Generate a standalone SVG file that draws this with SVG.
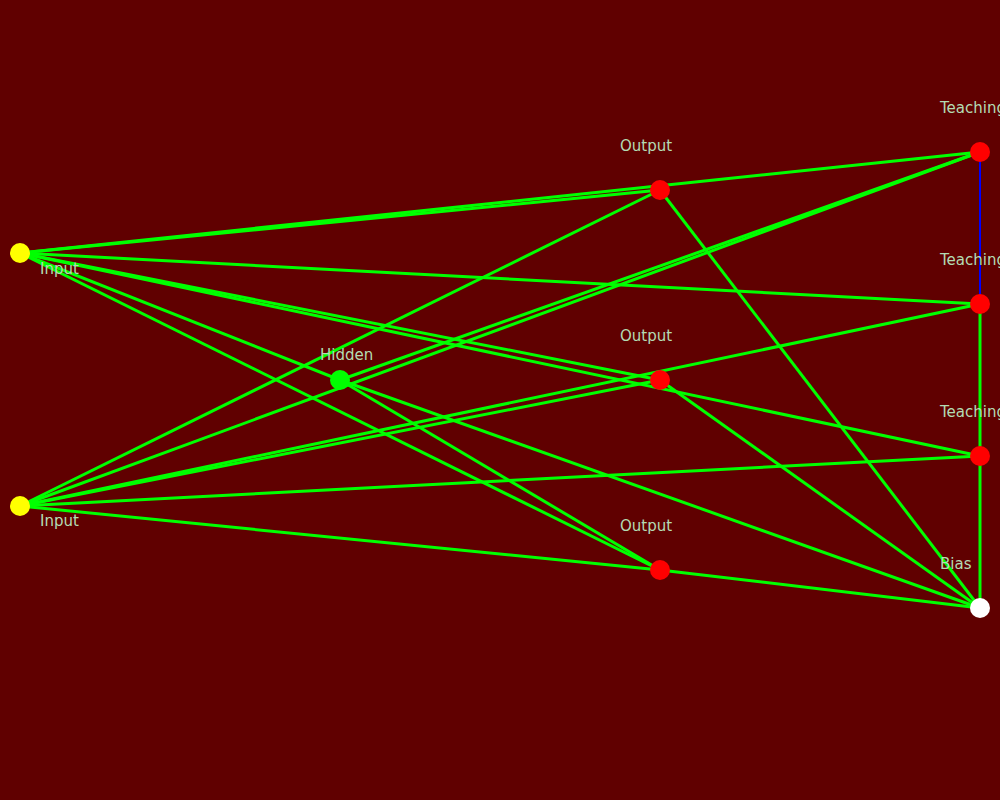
<svg xmlns="http://www.w3.org/2000/svg" width="1000" height="800" viewBox="0 0 1000 800">
<style>
.e{stroke:#00ff00;stroke-width:3;fill:none}
.eb{stroke:#0000ff;stroke-width:2;fill:none}
.lbl{font-family:"DejaVu Sans",sans-serif;font-size:15px;fill:#b4dcb4}
.in{fill:#ffff00}.hid{fill:#00ff00}.out{fill:#ff0000}.bias{fill:#ffffff}
</style>
<rect width="1000" height="800" fill="#600000"/>
<g id="connectors">
<line class="e" x1="20" y1="253" x2="660" y2="190"/>
<line class="e" x1="20" y1="253" x2="980" y2="152"/>
<line class="e" x1="20" y1="253" x2="980" y2="304"/>
<line class="e" x1="20" y1="253" x2="660" y2="380"/>
<line class="e" x1="20" y1="253" x2="980" y2="456"/>
<line class="e" x1="20" y1="253" x2="340" y2="380"/>
<line class="e" x1="20" y1="253" x2="660" y2="570"/>
<line class="e" x1="20" y1="506" x2="660" y2="190"/>
<line class="e" x1="20" y1="506" x2="980" y2="152"/>
<line class="e" x1="20" y1="506" x2="660" y2="380"/>
<line class="e" x1="20" y1="506" x2="980" y2="304"/>
<line class="e" x1="20" y1="506" x2="980" y2="456"/>
<line class="e" x1="20" y1="506" x2="660" y2="570"/>
<line class="e" x1="340" y1="380" x2="980" y2="152"/>
<line class="e" x1="340" y1="380" x2="660" y2="570"/>
<line class="e" x1="340" y1="380" x2="980" y2="608"/>
<line class="e" x1="660" y1="190" x2="980" y2="608"/>
<line class="e" x1="660" y1="380" x2="980" y2="608"/>
<line class="e" x1="660" y1="570" x2="980" y2="608"/>
<line class="eb" x1="980" y1="152" x2="980" y2="304"/>
<line class="e" x1="980" y1="304" x2="980" y2="456"/>
<line class="e" x1="980" y1="456" x2="980" y2="608"/>
</g>
<g id="input1"><circle class="in" cx="20" cy="253" r="10"/><text class="lbl" x="40" y="274">Input</text></g>
<g id="input2"><circle class="in" cx="20" cy="506" r="10"/><text class="lbl" x="40" y="526">Input</text></g>
<g id="hidden"><circle class="hid" cx="340" cy="380" r="10"/><text class="lbl" x="320" y="360">Hidden</text></g>
<g id="output1"><circle class="out" cx="660" cy="190" r="10"/><text class="lbl" x="620" y="151">Output</text></g>
<g id="output2"><circle class="out" cx="660" cy="380" r="10"/><text class="lbl" x="620" y="341">Output</text></g>
<g id="output3"><circle class="out" cx="660" cy="570" r="10"/><text class="lbl" x="620" y="531">Output</text></g>
<g id="teaching1"><circle class="out" cx="980" cy="152" r="10"/><text class="lbl" x="940" y="113">Teaching</text></g>
<g id="teaching2"><circle class="out" cx="980" cy="304" r="10"/><text class="lbl" x="940" y="265">Teaching</text></g>
<g id="teaching3"><circle class="out" cx="980" cy="456" r="10"/><text class="lbl" x="940" y="417">Teaching</text></g>
<g id="bias"><circle class="bias" cx="980" cy="608" r="10"/><text class="lbl" x="940" y="569">Bias</text></g>
</svg>
